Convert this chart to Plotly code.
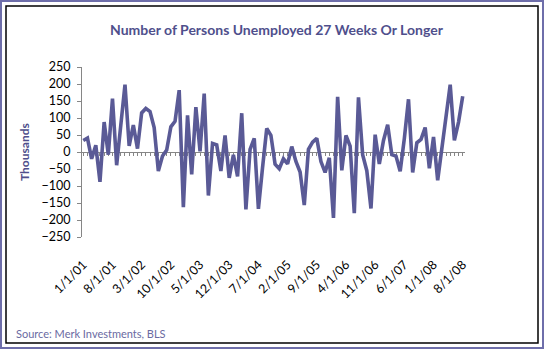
import pandas as pd
import plotly.graph_objects as go

# ---- data ----
months = [d.strftime("%-m/1/%y") for d in pd.date_range("2001-01-01", "2008-08-01", freq="MS")]
change_thousands = [
    34, 41, -20, 20, -88, 88, -8, 157, -39, 80, 198, 18,
    79, 10, 115, 128, 119, 72, -56, -12, 6, 74, 90, 182,
    -162, 108, -66, 132, 2, 172, -128, 25, 21, -56, 49, -76,
    -8, -72, 114, -169, 8, 40, -167, -45, 69, 49, -36, -49,
    -20, -35, 16, -28, -59, -156, 8, 29, 40, -28, -60, -17,
    -194, 162, -54, 49, 17, -180, 161, -8, -55, -166, 51, -35,
    34, 80, -8, -12, -57, 40, 155, -60, 27, 37, 72, -48,
    44, -83, 5, 100, 198, 34, 88, 164,
]
tick_labels = ["1/1/01", "8/1/01", "3/1/02", "10/1/02", "5/1/03", "12/1/03", "7/1/04",
               "2/1/05", "9/1/05", "4/1/06", "11/1/06", "6/1/07", "1/1/08", "8/1/08"]
y_ticks = list(range(-250, 251, 50))

title_text = "Number of Persons Unemployed 27 Weeks Or Longer"
source_text = "Source: Merk Investments, BLS"

# ---- layout geometry ----
W, H = 544, 349
ML, MR, MT, MB = 82, 79, 67, 112
PW, PH = W - ML - MR, H - MT - MB

def px(x):
    return (x - ML) / PW

def py(y):
    return (H - MB - y) / PH

LINE = "#5A5A96"
TEXT = "#4F4F8C"
AXIS = "#868686"
FONT = "Lato"
xr = [-0.31, 91.55]

fig = go.Figure()
# invisible trace to carry the bottom label axis
fig.add_trace(go.Scatter(x=months, y=change_thousands, xaxis="x", yaxis="y",
                         mode="lines", line=dict(color="rgba(0,0,0,0)"),
                         hoverinfo="skip", showlegend=False))
fig.add_trace(go.Scatter(x=months, y=change_thousands, xaxis="x2", yaxis="y",
                         mode="lines", line=dict(color=LINE, width=3.6),
                         showlegend=False))

fig.update_layout(
    width=W, height=H,
    margin=dict(l=ML, r=MR, t=MT, b=MB),
    paper_bgcolor="white", plot_bgcolor="white",
    font=dict(family=FONT, color="black"),
    xaxis=dict(type="category", categoryorder="array", categoryarray=months,
               range=xr, tickmode="array", tickvals=tick_labels, ticktext=tick_labels,
               tickangle=-45, ticks="", showline=False, showgrid=False, zeroline=False,
               ticklabelstandoff=17, tickfont=dict(family=FONT, size=12.5, color="black")),
    xaxis2=dict(type="category", categoryorder="array", categoryarray=months,
                overlaying="x", anchor="free", position=0.5, side="bottom",
                range=xr, tickmode="linear", tick0=0, dtick=1,
                ticks="outside", ticklen=3, tickcolor=AXIS, tickwidth=1,
                showline=True, linecolor=AXIS, linewidth=1, showticklabels=False,
                showgrid=False, zeroline=False, layer="below traces"),
    yaxis=dict(range=[-250, 250], tickmode="array", tickvals=y_ticks,
               ticks="outside", ticklen=4, tickcolor=AXIS, showline=True,
               linecolor=AXIS, linewidth=1, showgrid=False, zeroline=False,
               ticklabelstandoff=4, layer="below traces",
               tickfont=dict(family=FONT, size=12.5, color="black")),
    annotations=[
        dict(text="<b>" + title_text + "</b>", xref="paper", yref="paper",
             x=px(277), y=py(29.5), xanchor="center", yanchor="middle",
             showarrow=False, font=dict(family=FONT, size=14, color=TEXT)),
        dict(text="<b>Thousands</b>", xref="paper", yref="paper",
             x=px(24), y=py(152), xanchor="center", yanchor="middle", textangle=-90,
             showarrow=False, font=dict(family=FONT, size=12, color=TEXT)),
        dict(text=source_text, xref="paper", yref="paper",
             x=px(14), y=py(333), xanchor="left", yanchor="middle",
             showarrow=False, font=dict(family=FONT, size=11, color="#6A6AA2")),
    ],
    shapes=[
        dict(type="rect", xref="paper", yref="paper", x0=px(1), y0=py(1), x1=px(543), y1=py(348),
             line=dict(color="#6E6EAA", width=2), fillcolor="rgba(0,0,0,0)"),
        dict(type="rect", xref="paper", yref="paper", x0=px(6), y0=py(6), x1=px(538), y1=py(343),
             line=dict(color="black", width=1.5), fillcolor="rgba(0,0,0,0)"),
    ],
)

fig.write_html("out.html")
